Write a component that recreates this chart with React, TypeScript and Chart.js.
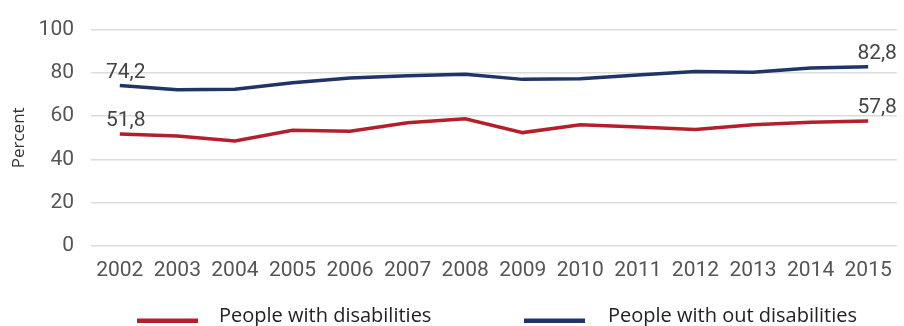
import React, { useEffect, useRef } from "react";
import { Chart, registerables } from "chart.js";

Chart.register(...registerables);

const years = ["2002", "2003", "2004", "2005", "2006", "2007", "2008", "2009", "2010", "2011", "2012", "2013", "2014", "2015"];
const withDisabilities = [51.8, 50.8, 48.5, 53.5, 53.0, 57.0, 58.8, 52.4, 56.0, 55.0, 53.8, 56.0, 57.2, 57.8];
const withoutDisabilities = [74.2, 72.2, 72.4, 75.4, 77.6, 78.7, 79.4, 77.0, 77.3, 79.0, 80.6, 80.3, 82.2, 82.8];
const seriesNames = ["People with disabilities", "People with out disabilities"];
const seriesColors = ["#b3202c", "#1f3568"];
const yAxisTitle = "Percent";
const yMin = 0;
const yMax = 100;
const yStep = 20;

const endLabels = {
  id: "endLabels",
  afterDatasetsDraw(chart: any) {
    const ctx = chart.ctx;
    ctx.save();
    ctx.font = "21px Roboto";
    ctx.fillStyle = "#444";
    ctx.textAlign = "center";
    ctx.textBaseline = "middle";
    chart.data.datasets.forEach((ds: any, i: number) => {
      const meta = chart.getDatasetMeta(i);
      const n = ds.data.length;
      [0, n - 1].forEach((idx, k) => {
        const pt = meta.data[idx];
        const txt = Number(ds.data[idx]).toFixed(1).replace(".", ",");
        ctx.fillText(txt, pt.x + (k === 0 ? 6 : 9), pt.y - 13);
      });
    });
    ctx.restore();
  },
};

const bottomLegend = {
  id: "bottomLegend",
  afterDraw(chart: any) {
    const ctx = chart.ctx;
    const items = [
      { lineX: 137, textX: 219 },
      { lineX: 524, textX: 608 },
    ];
    ctx.save();
    ctx.font = "20px 'Open Sans'";
    ctx.textBaseline = "alphabetic";
    ctx.textAlign = "left";
    chart.data.datasets.forEach((ds: any, i: number) => {
      const it = items[i];
      ctx.fillStyle = ds.borderColor;
      ctx.fillRect(it.lineX, 318.5, 61, 4.5);
      ctx.fillStyle = "#222";
      ctx.fillText(ds.label, it.textX, 322);
    });
    ctx.restore();
  },
};

export default function App() {
  const ref = useRef<HTMLCanvasElement | null>(null);
  useEffect(() => {
    if (!ref.current) return;
    const chart = new Chart(ref.current, {
      type: "line",
      data: {
        labels: years,
        datasets: [
          {
            label: seriesNames[0],
            data: withDisabilities,
            borderColor: seriesColors[0],
            backgroundColor: seriesColors[0],
            borderWidth: 3.5,
            pointRadius: 0,
            tension: 0,
          },
          {
            label: seriesNames[1],
            data: withoutDisabilities,
            borderColor: seriesColors[1],
            backgroundColor: seriesColors[1],
            borderWidth: 3.5,
            pointRadius: 0,
            tension: 0,
          },
        ],
      },
      options: {
        animation: false,
        responsive: false,
        maintainAspectRatio: false,
        layout: { padding: { top: 28, right: 7, left: 8, bottom: 40 } },
        plugins: {
          legend: { display: false },
          tooltip: { enabled: false },
        },
        scales: {
          x: {
            offset: true,
            grid: { display: false, drawTicks: false },
            border: { display: false },
            ticks: { font: { family: "Roboto", size: 21 }, color: "#555", padding: 12, maxRotation: 0, autoSkip: false },
            afterFit: (s: any) => { s.height = 40; },
          },
          y: {
            min: yMin,
            max: yMax,
            grid: { color: "#dcdcdc", lineWidth: 1.5, drawTicks: false },
            border: { display: false },
            ticks: { stepSize: yStep, font: { family: "Roboto", size: 21 }, color: "#555", padding: 17 },
            title: {
              display: true,
              text: yAxisTitle,
              font: { family: "'Open Sans'", size: 17 },
              color: "#333",
              padding: { top: 1, bottom: 0 },
            },
            afterFit: (s: any) => { s.width = 83; },
          },
        },
      },
      plugins: [endLabels, bottomLegend],
    });
    return () => chart.destroy();
  }, []);
  return (
    <div style={{ position: "fixed", top: 0, left: 0, width: 904, height: 326, background: "#fff" }}>
      <canvas ref={ref} width={904} height={326} style={{ display: "block", width: 904, height: 326 }} />
    </div>
  );
}
